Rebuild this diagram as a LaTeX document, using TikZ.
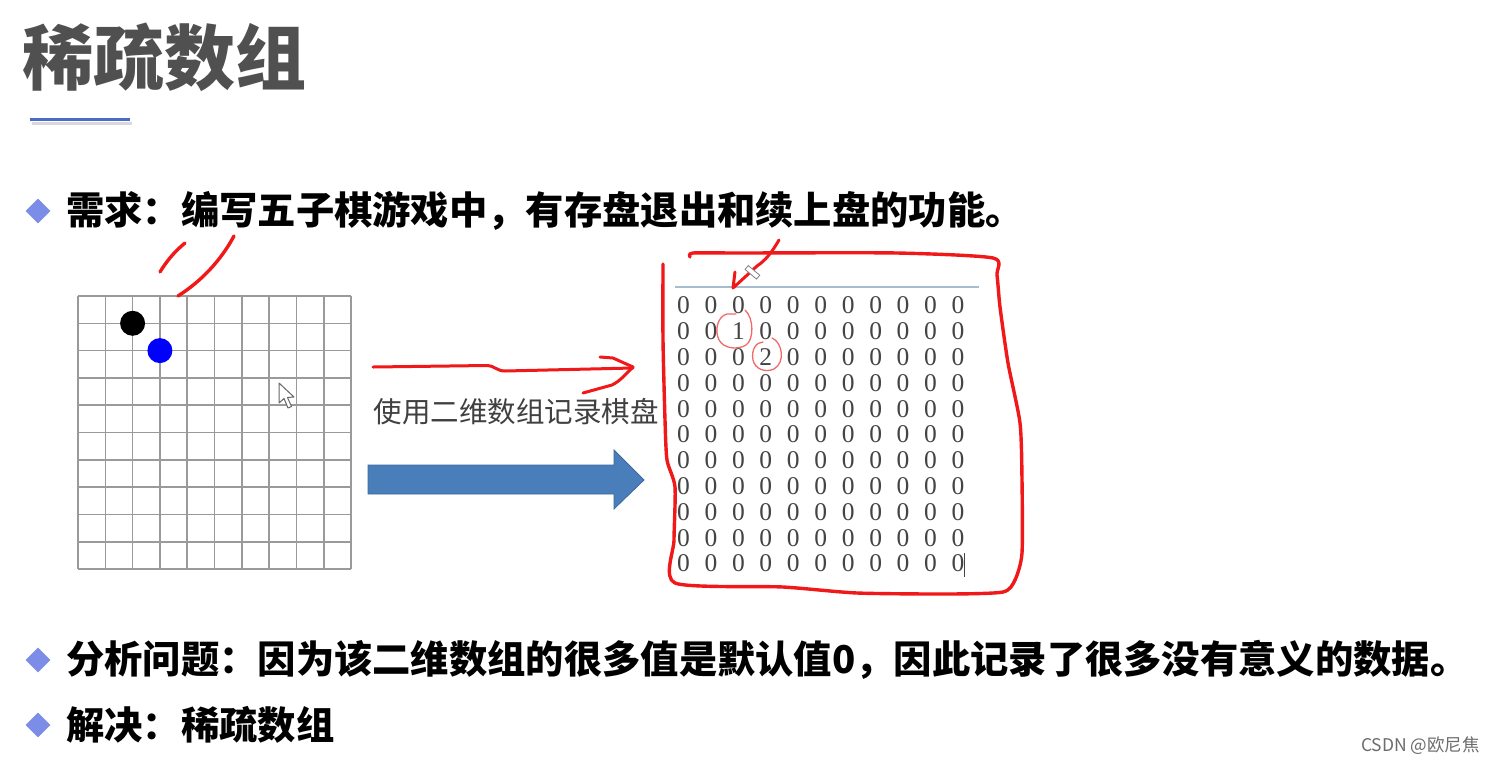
\documentclass[tikz,border=0pt]{standalone}
\usepackage{fontspec}
\setmainfont{Liberation Serif}
\newfontfamily\cjk{Noto Sans CJK SC}
\usetikzlibrary{shapes.geometric}
\definecolor{titlegray}{HTML}{505050}
\definecolor{bulletblue}{HTML}{7B8DE6}
\definecolor{lineblue}{HTML}{4A6CC8}
\definecolor{gridgray}{HTML}{9A9A9A}
\definecolor{arrowblue}{HTML}{4A7EBB}
\definecolor{arrowedge}{HTML}{3B6A9E}
\definecolor{penred}{HTML}{F01818}
\definecolor{lightred}{HTML}{F06A6A}
\definecolor{digitgray}{HTML}{444444}
\definecolor{topline}{HTML}{A8BCD0}
\begin{document}
\begin{tikzpicture}[x=1pt,y=-1pt,
  bullettext/.style={anchor=west,inner sep=0pt,font=\cjk\bfseries\fontsize{38.3}{40}\selectfont,text=black},
  diamondbullet/.style={diamond,fill=bulletblue,inner sep=0pt,minimum width=25pt,minimum height=25pt},
  gridline/.style={draw=gridgray,line width=1.6pt},
  pen/.style={draw=penred,line width=3.4pt,line cap=round,line join=round},
  thinpen/.style={draw=lightred,line width=1.3pt,line cap=round},
  digit/.style={inner sep=0pt,text=digitgray,font=\fontsize{25.5}{25}\selectfont}]
\useasboundingbox[fill=white] (0,0) rectangle (1493,766);

% title
\node[anchor=west,inner sep=0pt,text=titlegray,font=\cjk\bfseries\fontsize{71}{71}\selectfont] (title) at (22,57) {稀疏数组};
\draw[gray!30,line width=3pt] (32,123) -- (132,123);
\draw[lineblue,line width=3pt] (30,119.5) -- (130,119.5);

% bullets
\node[diamondbullet] (b1) at (38,211) {};
\node[bullettext] (t1) at (66,211) {需求：编写五子棋游戏中，有存盘退出和续上盘的功能。};
\node[diamondbullet] (b2) at (38,660) {};
\node[bullettext] (t2) at (66,660) {分析问题：因为该二维数组的很多值是默认值0，因此记录了很多没有意义的数据。};
\node[diamondbullet] (b3) at (38,725) {};
\node[bullettext] (t3) at (66,725) {解决：稀疏数组};

% board
\foreach \i in {0,...,10} {
  \draw[gridline] ({78+27.3*\i},296) -- ({78+27.3*\i},569);
  \draw[gridline] (78,{296+27.3*\i}) -- (351,{296+27.3*\i});
}
\node[circle,fill=black,minimum size=25pt,inner sep=0pt] (black) at (132.6,323.3) {};
\node[circle,fill=blue,minimum size=25pt,inner sep=0pt] (bluestone) at (159.9,350.6) {};
% mouse pointer
\draw[fill=white,draw=gray!80!black,line width=1pt,line join=round]
  (279,383) -- (279,403) -- (284,398.5) -- (288,408) -- (291.5,406.5) -- (287.5,397.5) -- (294,397) -- cycle;

% red strokes above board
\draw[pen] (160,272) .. controls (166,262) and (174,252) .. (185,243);
\draw[pen] (178,296) .. controls (200,282) and (220,262) .. (234,236);

% middle text and arrows
\node[inner sep=0pt,text=black!75,font=\cjk\fontsize{28.5}{30}\selectfont] (usetext) at (516,412) {使用二维数组记录棋盘};
\draw[pen,line width=3pt] (373,367) -- (487,365.5) .. controls (495,366) and (497,371) .. (505,371) -- (633,368);
\draw[pen,line width=3pt] (600,357) -- (613,358) -- (633,367) .. controls (625,375) and (620,381) .. (612,385) -- (583,393);
\draw[fill=arrowblue,draw=arrowedge,line width=0.8pt]
  (368,465) -- (614,465) -- (614,450) -- (644,480) -- (614,509) -- (614,494) -- (368,494) -- cycle;

% matrix
\draw[topline,line width=2pt] (675,287) -- (979,287);
\foreach \r in {0,...,10} {
  \foreach \c in {0,...,10} {
    \pgfmathtruncatemacro{\v}{(\r==1 && \c==2) ? 1 : ((\r==2 && \c==3) ? 2 : 0)}
    \node[digit] (m-\r-\c) at ({683.5+27.45*\c},{305.5+25.8*\r}) {\v};
  }
}
\draw[digitgray,line width=1pt] (964,553) -- (964,577);
% circles around 1 and 2
\draw[thinpen] (745,310) .. controls (754,318) and (754,340) .. (746,345) .. controls (738,350) and (724,349) .. (719,340) .. controls (714,330) and (718,316) .. (727,314) -- (736,314);
\draw[thinpen] (772,338) .. controls (782,342) and (786,362) .. (774,369) .. controls (765,373) and (755,369) .. (753,360) .. controls (751,350) and (756,342) .. (763,342);

% red outline around matrix
\draw[pen] plot[smooth,tension=0.4] coordinates {(663,264) (663,340) (665,420) (667,460) (675,487) (674,540) (675,583) (783,587) (857,593) (950,594) (1003,592) (1015,580) (1022,553) (1022,480) (1020,423) (1008,363) (1000,307) (997,275) (993,258) (897,253) (740,253) (693,253) (690,257)};
% red arrow at top
\draw[pen,line width=3pt] (779,240) .. controls (772,252) and (766,260) .. (757,266) -- (745,277) -- (733,288) -- (735,272);
% pen cursor
\draw[fill=white,draw=gray,line width=0.8pt,rotate around={-40:(752,272)}] (745,269.5) rectangle (760,274.5);

% watermark
\node[anchor=east,inner sep=0pt,text=gray!85!black,font=\cjk\fontsize{17.5}{17.5}\selectfont] (wm) at (1480,746) {CSDN @欧尼焦};
\end{tikzpicture}
\end{document}
